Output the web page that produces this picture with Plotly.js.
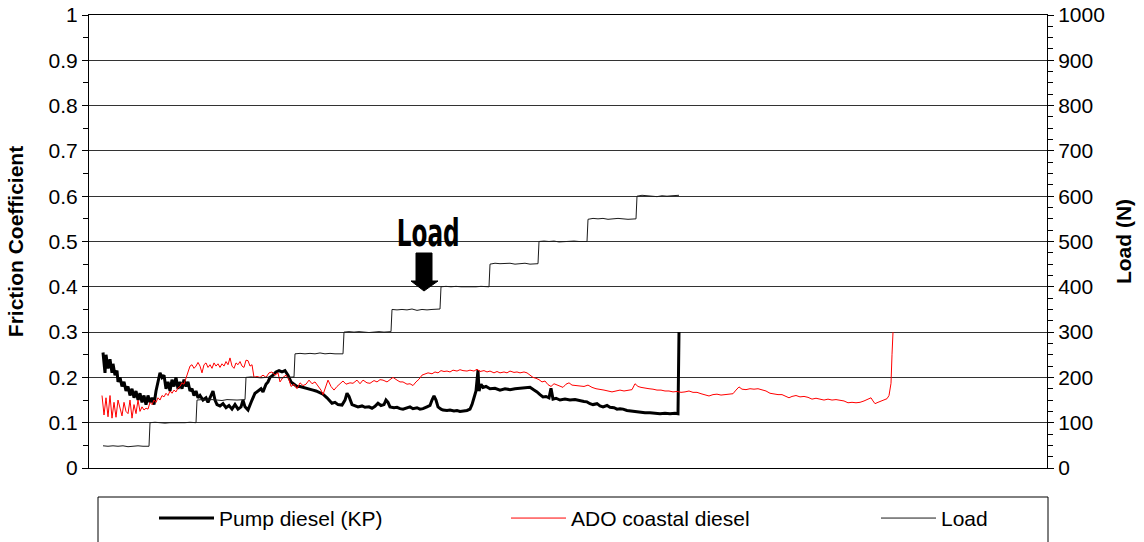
<!DOCTYPE html>
<html>
<head>
<meta charset="utf-8">
<script src="https://cdn.plot.ly/plotly-3.0.1.min.js"></script>
<style>
html,body{margin:0;padding:0;background:#fff;}
#chart{width:1144px;height:542px;}
</style>
</head>
<body>
<div id="chart"></div>
<script>
// Time (arbitrary sample units) and friction coefficient, Pump diesel (KP)
const pumpTime = [14,16,17,19,21,23,24,26,28,29,31,33,35,37,39,41,43,45,47,49,51,53,55,57,59,61,63,65,67,69,71,73,75,77,79,81,83,85,87,89,91,93,95,97,99,101,103,105,107,109,111,114,117,119,122,124,126,128,131,134,137,140,143,146,149,152,154,156,159,161,163,166,169,172,174,177,179,181,184,187,190,193,196,199,202,205,208,211,215,218,221,224,227,231,234,238,241,243,246,249,253,256,258,260,263,266,269,273,276,280,283,286,289,292,295,297,299,301,305,308,311,314,318,321,324,328,331,334,338,341,343,345,347,349,352,354,358,361,365,368,371,374,378,381,383,385,387,389,390,392,394,397,401,406,411,416,421,426,431,436,441,445,448,451,454,457,460,462,464,467,471,476,481,486,491,495,498,501,504,508,511,514,518,521,525,528,531,534,538,541,545,548,552,556,561,566,571,576,581,586,589,590];
const pumpFriction = [0.255,0.21,0.25,0.22,0.24,0.21,0.23,0.205,0.215,0.19,0.2,0.18,0.19,0.17,0.18,0.16,0.175,0.155,0.17,0.15,0.165,0.145,0.16,0.14,0.16,0.145,0.155,0.14,0.17,0.19,0.21,0.2,0.205,0.175,0.19,0.17,0.195,0.18,0.2,0.175,0.19,0.175,0.195,0.18,0.19,0.17,0.175,0.16,0.17,0.155,0.16,0.15,0.155,0.145,0.16,0.17,0.15,0.14,0.137,0.142,0.133,0.138,0.13,0.14,0.13,0.135,0.15,0.135,0.128,0.14,0.15,0.165,0.17,0.175,0.168,0.185,0.19,0.2,0.205,0.212,0.215,0.212,0.215,0.205,0.19,0.185,0.18,0.18,0.178,0.176,0.175,0.172,0.17,0.165,0.163,0.155,0.148,0.143,0.145,0.14,0.139,0.15,0.165,0.158,0.14,0.137,0.135,0.137,0.134,0.135,0.132,0.136,0.143,0.138,0.14,0.15,0.145,0.135,0.133,0.134,0.131,0.13,0.132,0.135,0.131,0.133,0.13,0.131,0.135,0.138,0.15,0.159,0.15,0.135,0.13,0.128,0.127,0.128,0.126,0.127,0.125,0.126,0.127,0.13,0.14,0.155,0.17,0.216,0.17,0.185,0.178,0.18,0.175,0.176,0.172,0.175,0.173,0.175,0.176,0.178,0.178,0.172,0.168,0.162,0.157,0.158,0.155,0.176,0.152,0.154,0.15,0.152,0.15,0.151,0.148,0.147,0.146,0.142,0.14,0.142,0.137,0.135,0.138,0.134,0.133,0.13,0.131,0.13,0.127,0.126,0.125,0.124,0.123,0.122,0.122,0.121,0.12,0.121,0.12,0.121,0.12,0.3];

// Time and friction coefficient, ADO coastal diesel
const adoTime = [13,15,17,19,21,23,25,27,29,31,33,35,37,39,41,43,45,47,49,51,53,55,57,59,61,63,65,67,69,71,73,75,77,79,81,83,85,87,89,91,93,95,97,99,101,103,105,107,109,111,113,115,117,119,121,123,125,127,129,131,133,135,137,139,141,143,145,147,149,151,153,155,157,159,161,163,165,168,171,174,177,180,183,186,189,191,194,197,200,202,205,208,211,214,217,220,223,226,229,232,234,237,239,242,245,248,251,254,257,261,264,268,271,274,278,281,285,288,291,294,298,301,304,308,311,314,318,321,324,327,330,333,336,339,343,346,349,352,355,358,361,364,368,371,374,378,381,385,388,391,395,398,401,405,408,411,415,418,421,425,428,431,435,438,441,444,447,450,453,456,459,462,465,468,471,474,477,480,483,487,491,495,499,503,507,511,515,519,523,527,531,535,539,543,546,549,552,556,560,564,568,572,576,580,584,588,592,596,600,604,608,612,616,620,624,628,632,636,640,644,647,650,653,657,661,665,669,673,677,681,685,689,693,697,700,703,707,711,715,719,723,727,731,735,739,743,747,751,755,759,763,767,771,775,779,782,784,786,789,792,795,798,800,801,802,803,804];
const adoFriction = [0.16,0.117,0.155,0.113,0.16,0.11,0.145,0.112,0.15,0.13,0.115,0.145,0.125,0.12,0.15,0.11,0.14,0.12,0.15,0.125,0.135,0.128,0.132,0.13,0.145,0.14,0.15,0.145,0.155,0.15,0.16,0.157,0.165,0.16,0.17,0.165,0.172,0.168,0.177,0.18,0.188,0.185,0.2,0.215,0.225,0.228,0.22,0.225,0.233,0.225,0.21,0.228,0.232,0.222,0.228,0.22,0.232,0.225,0.23,0.222,0.23,0.225,0.235,0.228,0.243,0.225,0.22,0.232,0.228,0.235,0.225,0.222,0.238,0.237,0.225,0.228,0.2,0.202,0.2,0.205,0.2,0.21,0.212,0.205,0.21,0.19,0.2,0.205,0.195,0.18,0.185,0.175,0.188,0.182,0.185,0.194,0.186,0.19,0.182,0.172,0.162,0.18,0.194,0.18,0.172,0.18,0.185,0.192,0.185,0.188,0.187,0.194,0.186,0.194,0.188,0.187,0.193,0.19,0.195,0.194,0.19,0.196,0.2,0.194,0.19,0.19,0.185,0.186,0.182,0.19,0.196,0.205,0.207,0.21,0.208,0.212,0.21,0.215,0.213,0.214,0.212,0.216,0.214,0.217,0.215,0.214,0.216,0.214,0.218,0.213,0.215,0.212,0.214,0.21,0.213,0.21,0.212,0.21,0.214,0.211,0.212,0.21,0.212,0.21,0.205,0.2,0.198,0.195,0.19,0.192,0.184,0.18,0.186,0.183,0.18,0.178,0.185,0.188,0.183,0.182,0.182,0.18,0.183,0.178,0.175,0.174,0.172,0.17,0.168,0.17,0.172,0.17,0.171,0.173,0.186,0.18,0.178,0.176,0.175,0.174,0.172,0.172,0.17,0.17,0.168,0.169,0.167,0.168,0.17,0.167,0.167,0.164,0.162,0.159,0.162,0.163,0.161,0.162,0.163,0.164,0.172,0.179,0.174,0.173,0.175,0.174,0.175,0.173,0.17,0.165,0.163,0.162,0.162,0.157,0.155,0.158,0.16,0.157,0.158,0.156,0.152,0.154,0.152,0.15,0.152,0.15,0.151,0.149,0.148,0.144,0.145,0.144,0.145,0.148,0.151,0.155,0.148,0.142,0.145,0.148,0.15,0.153,0.16,0.17,0.187,0.25,0.3];

// Time and applied load (N)
const loadTime = [14,19,24,29,34,39,44,49,54,60,61,66,71,76,81,86,91,96,101,107,108,113,118,123,128,133,138,143,148,156,157,162,167,172,177,182,187,192,197,205,206,211,216,221,226,231,236,241,246,254,255,260,265,270,275,280,285,290,295,302,303,308,313,318,323,328,333,338,343,351,352,357,362,367,372,377,382,387,392,400,401,406,411,416,421,426,431,436,441,449,450,455,460,465,470,475,480,485,490,498,499,504,509,514,519,524,529,534,539,547,548,553,558,563,568,573,578,583,590];
const loadN = [49,48,49,48,49,47,48,49,48,48,100,101,100,99,100,100,99,100,101,100,150,151,150,151,150,149,151,150,150,151,200,201,200,199,200,201,200,199,200,201,252,253,252,253,252,254,252,253,252,252,300,301,300,301,300,299,300,301,300,301,350,349,350,349,351,348,350,349,350,351,400,401,400,401,400,400,399,400,401,400,450,452,451,451,452,450,451,452,450,451,500,501,500,501,499,500,500,501,500,500,549,551,550,551,549,550,551,550,549,550,600,602,601,600,599,601,600,601,602];

const seriesNames = ['Pump diesel (KP)', 'ADO coastal diesel', 'Load'];
const leftTitle = 'Friction Coefficient';
const rightTitle = 'Load (N)';
const noteText = 'Load';

const FONT = 'Liberation Sans, Arial, sans-serif';
const LEGFONT = {family: FONT, size: 21, color: '#000'};

const traces = [
  {x: pumpTime, y: pumpFriction, name: seriesNames[0], type: 'scatter', mode: 'lines',
   line: {color: '#000000', width: 3}, yaxis: 'y', legend: 'legend'},
  {x: adoTime, y: adoFriction, name: seriesNames[1], type: 'scatter', mode: 'lines',
   line: {color: '#ff0000', width: 1}, yaxis: 'y', legend: 'legend2'},
  {x: loadTime, y: loadN, name: seriesNames[2], type: 'scatter', mode: 'lines',
   line: {color: '#1a1a1a', width: 1}, yaxis: 'y2', legend: 'legend3'}
];

function legendAt(px) {
  return {orientation: 'h', x: (px - 89) / 958, xanchor: 'left', y: -0.066, yanchor: 'top',
          itemwidth: 55, bgcolor: 'rgba(0,0,0,0)', borderwidth: 0, font: LEGFONT};
}

const layout = {
  width: 1144, height: 542,
  margin: {l: 89, r: 97, t: 15, b: 74, autoexpand: false},
  paper_bgcolor: '#ffffff', plot_bgcolor: '#ffffff',
  font: {family: FONT, size: 21, color: '#000'},
  showlegend: true,
  xaxis: {range: [0, 958], showticklabels: false, ticks: '', showgrid: false, zeroline: false,
          showline: true, linecolor: '#000', linewidth: 1, mirror: true, fixedrange: true},
  yaxis: {range: [0, 1], dtick: 0.1, tick0: 0, ticks: 'outside', ticklen: 6, tickcolor: '#000',
          showline: true, linecolor: '#000', linewidth: 1, showgrid: true, gridcolor: '#333333', gridwidth: 1,
          zeroline: false, tickfont: {family: FONT, size: 21, color: '#000'},
          minor: {dtick: 0.05, ticks: 'outside', ticklen: 5, tickcolor: '#000', showgrid: false},
          title: {text: '<b>' + leftTitle + '</b>', font: {family: FONT, size: 21, color: '#000'}, standoff: 19}},
  yaxis2: {range: [0, 1000], dtick: 100, tick0: 0, overlaying: 'y', side: 'right', ticks: 'outside', ticklen: 6,
           tickcolor: '#000', showline: true, linecolor: '#000', linewidth: 1, showgrid: false, zeroline: false,
           tickfont: {family: FONT, size: 21, color: '#000'},
           minor: {dtick: 25, ticks: 'outside', ticklen: 5, tickcolor: '#000', showgrid: false},
           title: {text: '<b>' + rightTitle + '</b>', font: {family: FONT, size: 21, color: '#000'}, standoff: 12}},
  legend: legendAt(154),
  legend2: legendAt(506),
  legend3: legendAt(876),
  shapes: [
    {type: 'rect', xref: 'paper', yref: 'paper', x0: (98-89)/958, x1: (1048-89)/958,
     y0: (468-497)/453, y1: (468-548)/453, line: {color: '#000', width: 1}, fillcolor: 'rgba(0,0,0,0)', layer: 'above'},
    {type: 'path', xref: 'x', yref: 'y', layer: 'above',
     path: 'M 327 0.4746 L 343 0.4746 L 343 0.4128 L 349 0.4128 L 335 0.3907 L 322 0.4128 L 327 0.4128 Z',
     fillcolor: '#000', line: {color: '#000', width: 1}}
  ],
  annotations: [
    {xref: 'x', yref: 'y', x: 338.5, y: 0.518, text: '<b>' + noteText + '</b>', showarrow: false,
     font: {family: 'Liberation Sans Narrow, DejaVu Sans Condensed, Arial Narrow, sans-serif', size: 37, color: '#000'}}
  ]
};

Plotly.newPlot('chart', traces, layout, {staticPlot: true, displayModeBar: false}).then(function (gd) {
  // narrow the "Load" call-out text to match the condensed lettering
  const t = gd.querySelector('.annotation-text-g text');
  if (t) {
    t.setAttribute('textLength', '63');
    t.setAttribute('lengthAdjust', 'spacingAndGlyphs');
  }
});
</script>
</body>
</html>
